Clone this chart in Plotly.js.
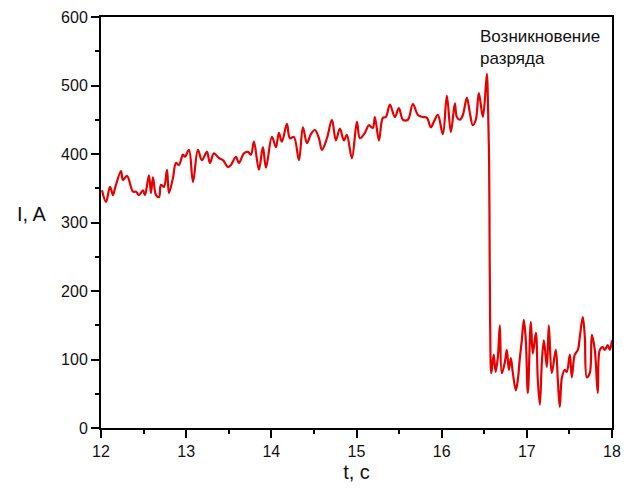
<!DOCTYPE html>
<html>
<head>
<meta charset="utf-8">
<script src="https://cdn.plot.ly/plotly-3.0.1.min.js"></script>
<style>html,body{margin:0;padding:0;background:#fff;}#chart{width:636px;height:490px;}</style>
</head>
<body>
<div id="chart"></div>
<script>
const timeS = [
12.012,12.059,12.106,12.141,12.164,12.235,12.258,12.305,12.376,12.411,12.446,12.493,12.516,12.563,12.587,12.610,12.646,12.681,12.704,12.739,12.775,12.798,12.845,12.880,12.915,12.962,12.986,13.033,
13.080,13.138,13.185,13.244,13.279,13.326,13.385,13.432,13.491,13.526,13.584,13.620,13.678,13.725,13.761,13.796,13.854,13.901,13.937,14.007,14.054,14.089,14.124,
14.183,14.218,14.265,14.324,14.371,14.418,14.465,14.512,14.559,14.594,14.653,14.711,14.758,14.805,14.852,14.887,14.946,15.005,15.040,15.099,15.146,
15.192,15.216,15.263,15.310,15.345,15.392,15.451,15.498,15.545,15.603,15.662,15.721,15.779,15.826,15.873,15.908,15.955,16.014,16.061,16.108,16.155,
16.178,16.214,16.249,16.296,16.331,16.366,16.401,16.437,16.484,16.531,16.542,16.557,16.563,16.569,16.583,
16.611,16.634,16.660,16.683,16.706,16.742,16.765,16.789,16.812,16.836,16.871,16.894,16.918,16.941,16.965,16.988,17.012,17.047,17.070,17.106,17.129,17.153,17.176,17.200,17.235,17.258,17.293,17.340,17.364,17.387,17.411,17.446,17.469,17.505,17.528,17.563,17.599,17.622,17.657,17.681,17.704,17.739,17.763,17.798,17.833,17.857,17.892,17.915,17.950,17.974,18.0
];
const currentA = [
347,330,352,340,350,375,362,368,345,345,340,347,340,369,343,366,340,337,355,352,377,343,365,387,384,399,396,406,
359,406,391,403,387,401,394,391,381,384,396,387,401,403,399,418,377,410,380,425,410,431,418,
444,423,425,391,439,416,429,435,423,406,423,450,420,437,420,428,394,447,423,431,442,
438,454,420,453,454,472,454,467,450,450,473,457,454,453,439,447,457,429,485,432,474,
454,450,457,482,460,442,450,489,454,517,482,391,260,155,80,
107,82,104,150,80,96,114,85,102,80,55,70,102,128,158,128,51,155,109,139,70,34,95,128,89,150,80,114,70,31,73,85,82,107,74,107,114,133,162,133,74,80,136,114,51,114,118,114,121,114,128
];
const yTicks = [0,100,200,300,400,500,600];
const xTicks = [12,13,14,15,16,17,18];
const xTitle = 't, c';
const yTitle = 'I, A';
const noteText = 'Возникновение<br>разряда';

const fam = 'Liberation Sans, Arial, sans-serif';
const axisFont = {family: fam, size: 16, color: '#111'};

const trace = {
  x: timeS, y: currentA, type: 'scatter', mode: 'lines',
  line: {color: '#e60000', width: 2.2, shape: 'spline', smoothing: 1.0},
  hoverinfo: 'skip'
};

const layout = {
  width: 636, height: 490,
  margin: {l: 101, r: 24, t: 17, b: 62},
  paper_bgcolor: '#fff', plot_bgcolor: '#fff',
  showlegend: false,
  xaxis: {
    range: [12, 18], tickvals: xTicks, ticktext: xTicks.map(String),
    ticks: 'outside', ticklen: 8, tickwidth: 2, tickcolor: '#000',
    minor: {dtick: 0.5, tick0: 12, ticks: 'outside', ticklen: 4, tickwidth: 2, tickcolor: '#000'},
    showline: true, linecolor: '#000', linewidth: 2, mirror: true,
    showgrid: false, zeroline: false,
    tickfont: axisFont,
    title: {text: xTitle, font: {family: fam, size: 20, color: '#111'}, standoff: 6}
  },
  yaxis: {
    range: [0, 600], tickvals: yTicks, ticktext: yTicks.map(String),
    ticks: 'outside', ticklen: 8, tickwidth: 2, tickcolor: '#000',
    minor: {dtick: 50, tick0: 0, ticks: 'outside', ticklen: 4, tickwidth: 2, tickcolor: '#000'},
    showline: true, linecolor: '#000', linewidth: 2, mirror: true,
    showgrid: false, zeroline: false,
    tickfont: axisFont
  },
  annotations: [
    {text: yTitle, xref: 'paper', yref: 'paper', x: -0.135, y: 0.52, xanchor: 'center', yanchor: 'middle',
     showarrow: false, font: {family: fam, size: 20, color: '#111'}},
    {text: noteText, xref: 'paper', yref: 'paper', x: 0.737, y: 0.98, xanchor: 'left', yanchor: 'top', align: 'left',
     showarrow: false, font: {family: fam, size: 17, color: '#111'}}
  ]
};

Plotly.newPlot('chart', [trace], layout, {displayModeBar: false, staticPlot: true});
</script>
</body>
</html>
